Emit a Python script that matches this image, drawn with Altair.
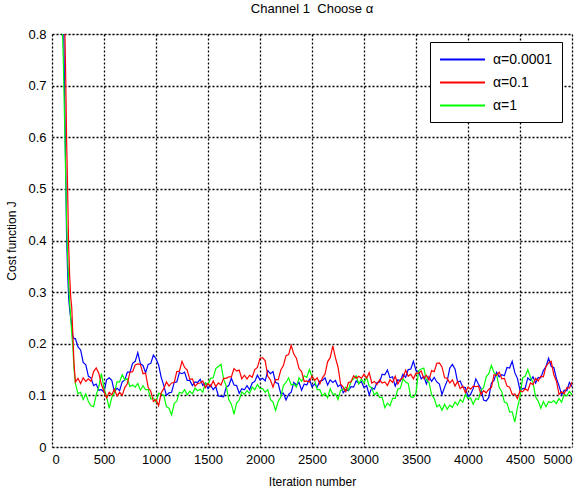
import altair as alt
import pandas as pd

# ---------------- data ----------------
iterations_decay = [0, 50, 90, 110, 120, 130, 140, 150, 160, 170, 180, 190, 200, 212]
iterations_steady = list(range(225, 5001, 25))

blue_decay = [1.9, 1.25, 0.95, 0.85, 0.70, 0.56, 0.41, 0.34, 0.29, 0.265, 0.25, 0.235, 0.215, 0.21]
red_decay = [1.9, 1.3, 1.0, 0.9, 0.84, 0.74, 0.60, 0.50, 0.39, 0.33, 0.29, 0.27, 0.22, 0.16]
green_decay = [1.8, 1.15, 0.88, 0.74, 0.64, 0.54, 0.44, 0.37, 0.32, 0.28, 0.25, 0.22, 0.195, 0.15]

blue_steady = [
    .210, .194, .188, .164, .159, .137, .134, .119, .122, .110, .111, .106,
    .130, .134, .129, .107, .114, .109, .126, .130, .145, .145, .162, .166,
    .183, .161, .158, .144, .160, .162, .178, .171, .159, .135, .119, .100,
    .105, .106, .125, .126, .144, .142, .145, .129, .129, .119, .126, .125,
    .131, .119, .124, .113, .120, .111, .117, .099, .098, .097, .116, .119,
    .133, .120, .119, .104, .113, .111, .119, .111, .124, .127, .139, .130,
    .133, .128, .148, .142, .146, .125, .123, .103, .104, .091, .102, .106,
    .125, .120, .125, .110, .122, .120, .131, .117, .122, .116, .128, .129,
    .134, .120, .130, .125, .129, .117, .121, .105, .111, .109, .117, .116,
    .128, .123, .127, .115, .119, .101, .115, .112, .125, .126, .141, .140,
    .149, .134, .136, .118, .130, .128, .141, .135, .150, .151, .166, .148,
    .146, .132, .137, .122, .136, .127, .135, .126, .122, .102, .116, .128,
    .153, .160, .151, .126, .128, .116, .115, .097, .102, .113, .132, .122,
    .113, .091, .089, .096, .124, .129, .145, .136, .140, .138, .154, .153,
    .166, .144, .133, .110, .113, .114, .134, .129, .136, .124, .135, .134,
    .148, .156, .172, .156, .154, .133, .119, .101, .110, .109, .125, .117,
]

red_steady = [
    .126, .133, .123, .134, .127, .132, .127, .146, .153, .143, .121, .108,
    .095, .106, .101, .112, .099, .106, .100, .115, .123, .145, .146, .159,
    .161, .160, .142, .143, .115, .108, .088, .092, .080, .105, .113, .126,
    .118, .124, .125, .146, .147, .166, .154, .149, .131, .132, .118, .123,
    .124, .128, .115, .123, .117, .128, .117, .124, .120, .133, .133, .136,
    .136, .152, .147, .149, .132, .139, .132, .139, .135, .150, .154, .172,
    .173, .167, .137, .130, .116, .131, .130, .149, .158, .177, .179, .197,
    .180, .172, .152, .146, .127, .128, .126, .138, .129, .134, .122, .134,
    .141, .165, .173, .196, .173, .155, .122, .116, .107, .125, .126, .138,
    .133, .137, .133, .141, .133, .144, .124, .127, .121, .130, .124, .126,
    .119, .130, .125, .137, .122, .131, .134, .149, .137, .141, .132, .143,
    .143, .147, .133, .139, .130, .148, .146, .162, .163, .155, .134, .133,
    .124, .130, .118, .127, .113, .118, .105, .116, .112, .118, .117, .118,
    .102, .109, .105, .112, .115, .140, .139, .145, .132, .133, .118, .116,
    .102, .103, .094, .109, .107, .113, .109, .124, .121, .133, .128, .137,
    .136, .156, .163, .166, .140, .128, .102, .107, .103, .115, .114, .126,
]

green_steady = [
    .123, .103, .106, .092, .103, .088, .080, .078, .101, .117, .142, .113,
    .098, .075, .096, .105, .126, .126, .140, .130, .132, .117, .120, .116,
    .123, .110, .119, .111, .111, .093, .095, .087, .104, .103, .100, .078,
    .075, .062, .084, .089, .106, .104, .111, .101, .108, .103, .114, .109,
    .112, .106, .124, .121, .133, .134, .152, .156, .160, .132, .118, .092,
    .083, .063, .085, .091, .107, .102, .109, .104, .116, .111, .121, .113,
    .113, .106, .111, .092, .087, .071, .088, .097, .119, .125, .134, .120,
    .122, .116, .134, .127, .138, .135, .150, .136, .129, .111, .111, .099,
    .104, .095, .113, .102, .103, .092, .110, .111, .116, .110, .127, .132,
    .138, .122, .132, .124, .135, .118, .114, .101, .106, .096, .096, .076,
    .085, .080, .094, .094, .112, .114, .132, .126, .123, .097, .096, .105,
    .148, .151, .153, .130, .125, .101, .094, .078, .082, .071, .083, .073,
    .081, .077, .087, .081, .092, .087, .102, .094, .095, .083, .094, .092,
    .110, .115, .136, .142, .158, .144, .140, .115, .107, .087, .085, .068,
    .068, .048, .076, .097, .134, .137, .150, .135, .125, .097, .089, .075,
    .088, .078, .088, .086, .090, .084, .094, .087, .102, .099, .108, .101,
]

series_names = ["α=0.0001", "α=0.1", "α=1"]
series_colors = ["#0000ff", "#ff0000", "#00ff00"]
x_ticks = list(range(0, 5001, 500))
y_ticks = [0, 0.1, 0.2, 0.3, 0.4, 0.5, 0.6, 0.7, 0.8]

# ---------------- build the table ----------------
iters = iterations_decay + iterations_steady
rows = []
# drawing order: blue, green, red (red on top)
for name, vals in [
    ("α=0.0001", blue_decay + blue_steady),
    ("α=1", green_decay + green_steady),
    ("α=0.1", red_decay + red_steady),
]:
    assert len(vals) == len(iters), (name, len(vals), len(iters))
    for i, v in zip(iters, vals):
        rows.append({"iter": i, "J": v, "series": name})
df = pd.DataFrame(rows)

FONT = "Liberation Sans"

axis_common = dict(
    grid=True,
    gridColor="black",
    gridDash=[2, 2],
    gridOpacity=1,
    gridWidth=1.3,
    ticks=False,
    domain=False,
    labelFont=FONT,
    labelFontSize=13,
    labelColor="black",
    titleFont=FONT,
    titleFontSize=12,
    titleFontWeight="normal",
    titleColor="black",
    labelPadding=6,
)

chart = (
    alt.Chart(df)
    .mark_line(clip=True, strokeWidth=1.2)
    .encode(
        x=alt.X(
            "iter:Q",
            scale=alt.Scale(domain=[0, 5000], nice=False, zero=False),
            axis=alt.Axis(
                title="Iteration number",
                values=x_ticks,
                format="d",
                titlePadding=10,
                **axis_common,
            ),
        ),
        y=alt.Y(
            "J:Q",
            scale=alt.Scale(domain=[0, 0.8], nice=False),
            axis=alt.Axis(
                title="Cost function J",
                values=y_ticks,
                format="~g",
                titlePadding=9,
                **axis_common,
            ),
        ),
        color=alt.Color(
            "series:N",
            scale=alt.Scale(domain=series_names, range=series_colors),
            legend=alt.Legend(
                title=None,
                orient="none",
                legendX=378,
                legendY=8,
                symbolType="M-1,0H5",
                symbolSize=225,
                symbolStrokeWidth=2,
                symbolFillColor="transparent",
                labelFontSize=14,
                labelFont=FONT,
                labelColor="black",
                labelOffset=37,
                rowPadding=7,
                padding=9,
                strokeColor="black",
                fillColor="white",
            ),
        ),
        detail="series:N",
    )
    .properties(
        width=520,
        height=413,
        title=alt.TitleParams(
            "Channel 1\u00a0\u00a0Choose α",
            fontSize=13,
            font=FONT,
            fontWeight="normal",
            color="black",
            offset=12,
        ),
        autosize=alt.AutoSizeParams(type="none"),
        padding={"left": 52, "top": 34, "right": 16, "bottom": 44},
    )
    .configure_view(stroke="black", strokeWidth=2)
    .configure(background="white")
)

chart.save("out.html", embed_options={"renderer": "svg", "actions": False})
